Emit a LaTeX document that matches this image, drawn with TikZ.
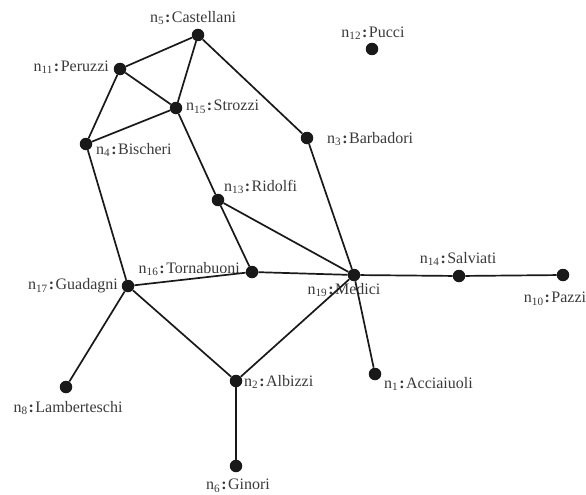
\documentclass[tikz,border=0pt]{standalone}
\usepackage{fontspec}
\setmainfont{Liberation Serif}
\definecolor{txt}{HTML}{3A3A3A}
\newcommand{\sep}{\kern1pt\textbf{:}\kern1.5pt}
\begin{document}
\begin{tikzpicture}[x=1pt,y=-1pt,
  vtx/.style={circle,fill=black!90,inner sep=0pt,minimum size=12.5pt},
  lbl/.style={text=txt,font=\fontsize{16}{17}\selectfont,inner sep=0pt},
  edge/.style={line width=1.7pt,black!90}]
\useasboundingbox (0,0) rectangle (586,495);
% vertices
\node[vtx] (n5) at (198,35) {};
\node[vtx] (n12) at (372,49) {};
\node[vtx] (n11) at (120,69) {};
\node[vtx] (n15) at (176,108) {};
\node[vtx] (n4) at (86,144) {};
\node[vtx] (n3) at (307,138) {};
\node[vtx] (n13) at (218,200) {};
\node[vtx] (n16) at (252,272) {};
\node[vtx] (n19) at (354,275) {};
\node[vtx] (n14) at (459,276) {};
\node[vtx] (n10) at (563,275) {};
\node[vtx] (n17) at (128,286) {};
\node[vtx] (n8) at (66,387) {};
\node[vtx] (n2) at (236,381) {};
\node[vtx] (n1) at (375,374) {};
\node[vtx] (n6) at (236,466) {};
% labels
\node[lbl] (l5) at (193,18) {n\textsubscript{5}\sep Castellani};
\node[lbl] (l12) at (373,33) {n\textsubscript{12}\sep Pucci};
\node[lbl,anchor=east] (l11) at (109,67) {n\textsubscript{11}\sep Peruzzi};
\node[lbl,anchor=west] (l15) at (186,107) {n\textsubscript{15}\sep Strozzi};
\node[lbl,anchor=west] (l4) at (96,150) {n\textsubscript{4}\sep Bischeri};
\node[lbl,anchor=west] (l3) at (327,139) {n\textsubscript{3}\sep Barbadori};
\node[lbl,anchor=west] (l13) at (224,187) {n\textsubscript{13}\sep Ridolfi};
\node[lbl,anchor=east] (l16) at (240,269) {n\textsubscript{16}\sep Tornabuoni};
\node[lbl] (l19) at (344,290) {n\textsubscript{19}\sep Medici};
\node[lbl] (l14) at (458,259) {n\textsubscript{14}\sep Salviati};
\node[lbl] (l10) at (555,299) {n\textsubscript{10}\sep Pazzi};
\node[lbl,anchor=east] (l17) at (118,286) {n\textsubscript{17}\sep Guadagni};
\node[lbl] (l8) at (68,408) {n\textsubscript{8}\sep Lamberteschi};
\node[lbl,anchor=west] (l2) at (244,382) {n\textsubscript{2}\sep Albizzi};
\node[lbl,anchor=west] (l1) at (384,384) {n\textsubscript{1}\sep Acciaiuoli};
\node[lbl] (l6) at (238,486) {n\textsubscript{6}\sep Ginori};
% edges
\draw[edge] (n5) -- (n11);
\draw[edge] (n5) -- (n15);
\draw[edge] (n5) -- (n3);
\draw[edge] (n11) -- (n15);
\draw[edge] (n11) -- (n4);
\draw[edge] (n15) -- (n4);
\draw[edge] (n15) -- (n13);
\draw[edge] (n4) -- (n17);
\draw[edge] (n3) -- (n19);
\draw[edge] (n13) -- (n19);
\draw[edge] (n13) -- (n16);
\draw[edge] (n16) -- (n19);
\draw[edge] (n16) -- (n17);
\draw[edge] (n19) -- (n14);
\draw[edge] (n14) -- (n10);
\draw[edge] (n19) -- (n1);
\draw[edge] (n19) -- (n2);
\draw[edge] (n17) -- (n2);
\draw[edge] (n17) -- (n8);
\draw[edge] (n2) -- (n6);
\end{tikzpicture}
\end{document}
